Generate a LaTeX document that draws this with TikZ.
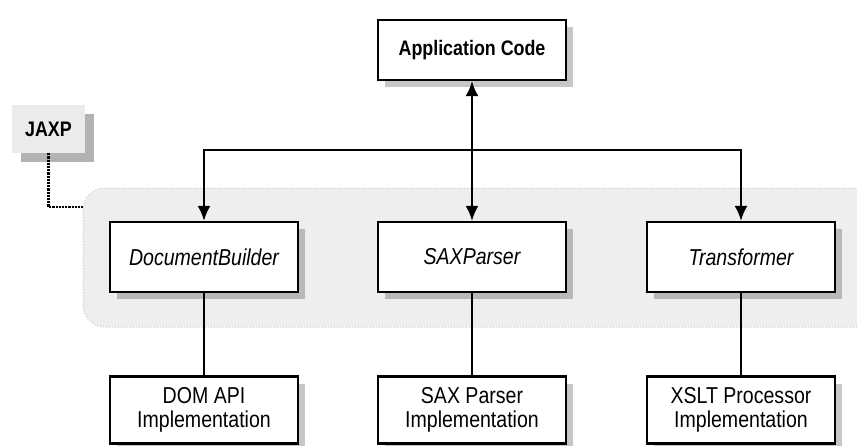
\documentclass[tikz,border=0pt]{standalone}
\usepackage{fontspec}
\setmainfont{Liberation Sans}[FakeStretch=0.85]
\usetikzlibrary{positioning,shadows,arrows.meta}

\begin{document}
\begin{tikzpicture}[x=1pt,y=-1pt,
    box/.style={draw,line width=2.2pt,fill=white,minimum width=188pt,minimum height=70pt,
      font=\fontsize{23}{25}\selectfont\itshape,
      drop shadow={shadow xshift=7pt,shadow yshift=-7pt,fill=black,opacity=0.22}},
    impl/.style={box,minimum height=67pt,align=center,font=\fontsize{23}{24}\selectfont},
    conn/.style={line width=2.4pt},
    arr/.style={conn,-{Latex[length=15pt,width=13pt]}}]
    \useasboundingbox (0,0) rectangle (857,445);
    \clip (0,0) rectangle (857,445);

    % JAXP region
    \fill[gray!13,rounded corners=22pt] (83,188) rectangle (900,327);
    \draw[gray!45,dotted,line width=1pt,rounded corners=22pt] (900,188) -- (83,188) -- (83,327) -- (900,327);
    \coordinate (regw) at (83,207);

    \node[fill=gray!16,minimum width=73pt,minimum height=48pt,font=\fontsize{21}{23}\selectfont\bfseries,
      drop shadow={shadow xshift=9pt,shadow yshift=-9pt,fill=black,opacity=0.3}] (jaxp) at (48.5,129) {JAXP};
    \node[box,minimum height=60pt,font=\fontsize{21}{23}\selectfont\bfseries] (app) at (472,50) {Application Code};

    \node[box] (docb) at (204,257) {DocumentBuilder};
    \node[box] (saxp) at (472,257) {SAXParser};
    \node[box] (trans) at (741,257) {Transformer};

    \node[impl] (domimpl) at (204,410) {DOM API\\Implementation};
    \node[impl] (saximpl) at (472,410) {SAX Parser\\Implementation};
    \node[impl] (xsltimpl) at (741,410) {XSLT Processor\\Implementation};

    % Arrows
    \coordinate (bus) at (472,150);
    \draw[conn,{Latex[length=15pt,width=13pt]}-{Latex[length=15pt,width=13pt]}] (app.south) -- (saxp.north);
    \draw[arr] (bus) -| (docb.north);
    \draw[arr] (bus) -| (trans.north);
    \draw[conn] (docb.south) -- (domimpl.north);
    \draw[conn] (saxp.south) -- (saximpl.north);
    \draw[conn] (trans.south) -- (xsltimpl.north);
    \draw[line width=2.2pt,densely dotted] (jaxp.south) |- (regw);
\end{tikzpicture}
\end{document}
